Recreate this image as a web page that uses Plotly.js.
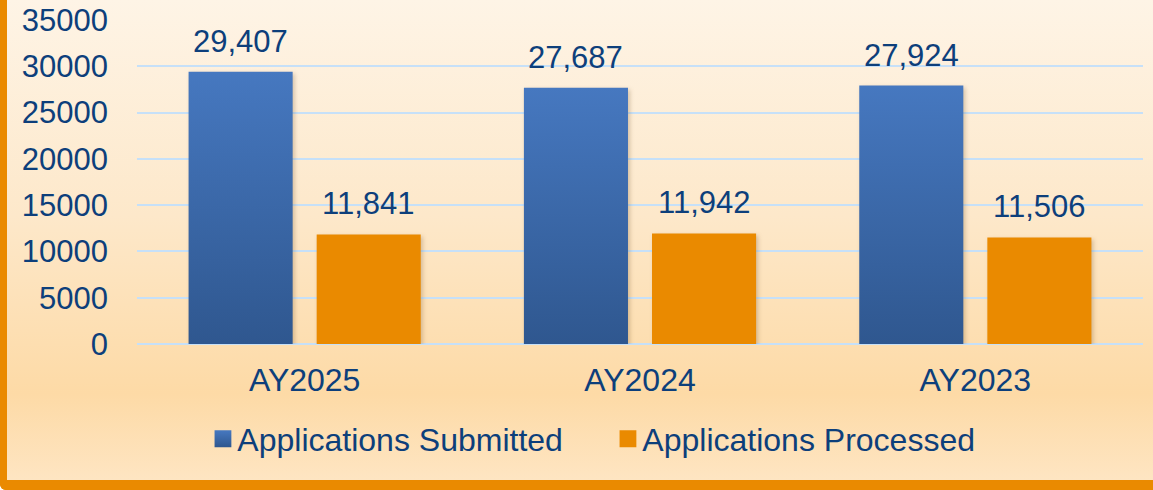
<!DOCTYPE html>
<html>
<head>
<meta charset="utf-8">
<script src="https://cdn.plot.ly/plotly-3.0.1.min.js"></script>
<style>
  html, body { margin: 0; padding: 0; }
  #bg {
    position: absolute; left: 0; top: 0; width: 1153px; height: 490px;
    box-sizing: border-box;
    border-left: 7px solid #EA8A00; border-bottom: 10px solid #EA8A00;
    border-bottom-left-radius: 6px;
    background: linear-gradient(to bottom, #FEF4E6 0%, #FDE8CA 45%, #FDDAA6 82%, #FEE5C2 100%);
  }
  #chart { position: absolute; left: 0; top: 0; width: 1153px; height: 490px; }
  .barlayer .point path { filter: drop-shadow(2px 2px 2px rgba(90,60,20,0.25)); }
</style>
</head>
<body>
<div id="bg"></div>
<div id="chart"></div>
<script>
const categories = ["AY2025", "AY2024", "AY2023"];
const submitted = [29407, 27687, 27924];
const processed = [11841, 11942, 11506];
const seriesNames = ["Applications Submitted", "Applications Processed"];
const yTicks = [0, 5000, 10000, 15000, 20000, 25000, 30000, 35000];

const textColor = "#0D3F7B";
const blue = "#3C69AD";
const orange = "#EA8A00";
const font = "Liberation Sans, Arial, sans-serif";
const bargap = 0.236;
const bargroupgap = 0.1875;

const traces = [
  { type: "bar", name: seriesNames[0], x: categories, y: submitted,
    marker: { color: blue, line: { width: 0 } }, hoverinfo: "none" },
  { type: "bar", name: seriesNames[1], x: categories, y: processed,
    marker: { color: orange, line: { width: 0 } }, hoverinfo: "none" }
];

const off = (1 - bargap) / 4;
const annotations = [];
categories.forEach((c, i) => {
  [[submitted, -off], [processed, off]].forEach(([arr, o]) => {
    annotations.push({
      x: i + o, y: arr[i], xref: "x", yref: "y",
      text: arr[i].toLocaleString("en-US"),
      showarrow: false, yanchor: "bottom", xanchor: "center", yshift: 11,
      font: { family: font, size: 31, color: textColor }
    });
  });
});

const layout = {
  width: 1153, height: 490,
  paper_bgcolor: "rgba(0,0,0,0)", plot_bgcolor: "rgba(0,0,0,0)",
  margin: { l: 137, r: 10, t: 20, b: 146 },
  barmode: "group", bargap: bargap, bargroupgap: bargroupgap,
  font: { family: font, color: textColor, size: 31 },
  xaxis: {
    type: "category", showgrid: false, zeroline: false, showline: false,
    ticks: "", tickfont: { size: 32, color: textColor }, ticklabelstandoff: 14
  },
  yaxis: {
    range: [0, 35000], tickvals: yTicks, tickformat: "d",
    showgrid: true, gridcolor: "#C6E0F8", gridwidth: 2,
    zeroline: true, zerolinecolor: "#C6E0F8", zerolinewidth: 2,
    showline: false, ticks: "", tickfont: { size: 31, color: textColor },
    ticklabelstandoff: 28
  },
  legend: {
    orientation: "h", x: 0.06, xanchor: "left", y: -0.293, yanchor: "middle",
    font: { size: 32, color: textColor }, itemwidth: 30, traceorder: "normal",
    entrywidth: 360, entrywidthmode: "pixels",
    bgcolor: "rgba(0,0,0,0)"
  },
  annotations: annotations,
  showlegend: true
};

Plotly.newPlot("chart", traces, layout, { displayModeBar: false, staticPlot: true }).then(gd => {
  const svg = gd.querySelector("svg.main-svg");
  const ns = "http://www.w3.org/2000/svg";
  let defs = svg.querySelector("defs");
  const grad = document.createElementNS(ns, "linearGradient");
  grad.setAttribute("id", "blueGrad");
  grad.setAttribute("x1", "0"); grad.setAttribute("y1", "0");
  grad.setAttribute("x2", "0"); grad.setAttribute("y2", "1");
  [["0%", "#4678C0"], ["100%", "#2F578F"]].forEach(([o, c]) => {
    const s = document.createElementNS(ns, "stop");
    s.setAttribute("offset", o); s.setAttribute("stop-color", c);
    grad.appendChild(s);
  });
  defs.appendChild(grad);
  const bars = gd.querySelectorAll(".barlayer .trace");
  if (bars[0]) bars[0].querySelectorAll("path").forEach(p => p.style.fill = "url(#blueGrad)");
  const leg = gd.querySelectorAll(".legend .traces");
  leg.forEach((item, k) => {
    const t = item.querySelector("text.legendtext");
    const tx = t ? parseFloat(t.getAttribute("x")) : 40;
    item.querySelectorAll(".legendpoints path").forEach(p => {
      p.setAttribute("transform", "translate(" + (tx - 6 - 8.4) + ",0) scale(1.4)");
      if (k === 0) p.style.fill = "url(#blueGrad)";
    });
  });
});
</script>
</body>
</html>
